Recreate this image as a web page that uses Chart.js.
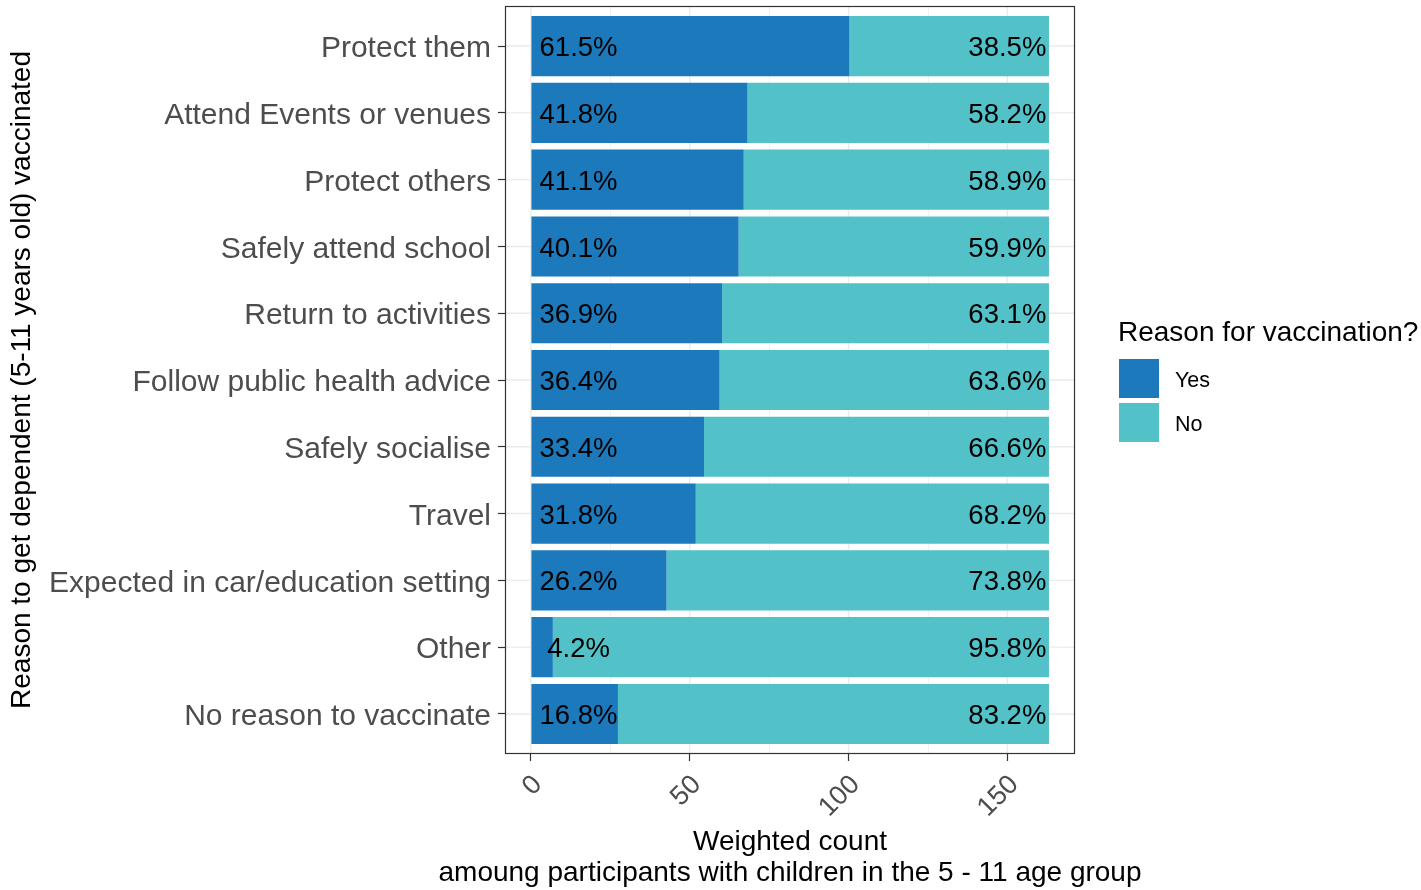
<!DOCTYPE html>
<html>
<head>
<meta charset="utf-8">
<script src="https://cdn.jsdelivr.net/npm/chart.js@4.4.1/dist/chart.umd.min.js"></script>
<style>
  html, body { margin: 0; padding: 0; background: #fff; }
  #wrap { position: relative; width: 1421px; height: 890px; font-family: "Liberation Sans", Arial, sans-serif; }
  #chart { position: absolute; left: 0; top: 0; }
  .lg { position: absolute; white-space: nowrap; }
  .lg-title { left: 1118px; top: 316px; font-size: 28px; line-height: 32px; color: #000; }
  .lg-key { left: 1119px; width: 40px; height: 39px; }
  .lg-lab { left: 1175px; font-size: 21.5px; line-height: 26px; color: #000; }
  .xt { position: absolute; left: 390px; width: 800px; text-align: center; font-size: 28px; line-height: 32px; color: #000; white-space: nowrap; }
</style>
</head>
<body>
<div id="wrap">
  <canvas id="chart" width="1421" height="890"></canvas>
  <div class="lg lg-title">Reason for vaccination?</div>
  <div class="lg lg-key" id="keyYes" style="top:359px"></div>
  <div class="lg lg-lab" style="top:367px">Yes</div>
  <div class="lg lg-key" id="keyNo" style="top:403px"></div>
  <div class="lg lg-lab" style="top:411px">No</div>
  <div class="xt" id="xTitle1" style="top:825px"></div>
  <div class="xt" id="xTitle2" style="top:856px"></div>
</div>
<script>
// categories top to bottom
const categories = [
  'Protect them', 'Attend Events or venues', 'Protect others', 'Safely attend school',
  'Return to activities', 'Follow public health advice', 'Safely socialise', 'Travel',
  'Expected in car/education setting', 'Other', 'No reason to vaccinate'
];
// weighted counts
const yesCounts = [100.3, 68.2, 67.0, 65.4, 60.2, 59.4, 54.5, 51.9, 42.7, 6.9, 27.4];
const noCounts  = [62.8, 94.9, 96.1, 97.7, 102.9, 103.7, 108.6, 111.2, 120.4, 156.2, 135.7];
const yesLabels = ['61.5%', '41.8%', '41.1%', '40.1%', '36.9%', '36.4%', '33.4%', '31.8%', '26.2%', '4.2%', '16.8%'];
const noLabels  = ['38.5%', '58.2%', '58.9%', '59.9%', '63.1%', '63.6%', '66.6%', '68.2%', '73.8%', '95.8%', '83.2%'];
const xTicks      = [0, 50, 100, 150];
const xMinorTicks = [25, 75, 125];
const yesLabelX = 15;   // where the percentage texts sit on the count axis
const noLabelX  = 150;
const xTitleLines = ['Weighted count', 'amoung participants with children in the 5 - 11 age group'];
const yTitle = 'Reason to get dependent (5-11 years old) vaccinated';

const YES_COL = '#1b79bc';
const NO_COL  = '#52c1c8';
const FAMILY  = '"Liberation Sans", Arial, sans-serif';

document.getElementById('keyYes').style.background = YES_COL;
document.getElementById('keyNo').style.background  = NO_COL;
document.getElementById('xTitle1').textContent = xTitleLines[0];
document.getElementById('xTitle2').textContent = xTitleLines[1];

const panelPlugin = {
  id: 'panel',
  beforeDatasetsDraw(chart) {
    const { ctx, chartArea: a, scales: { x, y } } = chart;
    ctx.save();
    ctx.strokeStyle = '#ebebeb';
    ctx.lineWidth = 0.7;
    xMinorTicks.forEach(v => {
      const px = Math.round(x.getPixelForValue(v)) + 0.5;
      ctx.beginPath(); ctx.moveTo(px, a.top); ctx.lineTo(px, a.bottom); ctx.stroke();
    });
    ctx.lineWidth = 1.4;
    xTicks.forEach(v => {
      const px = x.getPixelForValue(v);
      ctx.beginPath(); ctx.moveTo(px, a.top); ctx.lineTo(px, a.bottom); ctx.stroke();
    });
    categories.forEach((c, i) => {
      const py = y.getPixelForValue(i);
      ctx.beginPath(); ctx.moveTo(a.left, py); ctx.lineTo(a.right, py); ctx.stroke();
    });
    ctx.restore();
  },
  afterDatasetsDraw(chart) {
    const { ctx, chartArea: a, scales: { x, y } } = chart;
    ctx.save();
    ctx.font = '27.5px ' + FAMILY;
    ctx.fillStyle = '#000';
    ctx.textAlign = 'center';
    ctx.textBaseline = 'middle';
    categories.forEach((c, i) => {
      const py = y.getPixelForValue(i) + 2.5;
      ctx.fillText(yesLabels[i], x.getPixelForValue(yesLabelX), py);
      ctx.fillText(noLabels[i],  x.getPixelForValue(noLabelX),  py);
    });
    ctx.strokeStyle = '#333';
    ctx.lineWidth = 1.2;
    ctx.strokeRect(a.left + 0.5, a.top + 0.5, a.width - 1, a.height - 1);
    ctx.restore();
  }
};

new Chart(document.getElementById('chart'), {
  type: 'bar',
  data: {
    datasets: [
      { label: 'Yes', data: yesCounts.map((v, i) => ({ x: v, y: i })), backgroundColor: YES_COL,
        stack: 's', categoryPercentage: 0.9, barPercentage: 1, borderWidth: 0 },
      { label: 'No',  data: noCounts.map((v, i) => ({ x: v, y: i })),  backgroundColor: NO_COL,
        stack: 's', categoryPercentage: 0.9, barPercentage: 1, borderWidth: 0 }
    ]
  },
  options: {
    indexAxis: 'y',
    responsive: false,
    animation: false,
    layout: { padding: { top: 6, right: 346, left: 0, bottom: 0 } },
    plugins: { legend: { display: false }, tooltip: { enabled: false } },
    scales: {
      x: {
        type: 'linear', stacked: true, min: -8.16, max: 171.3, offset: false,
        afterBuildTicks: s => { s.ticks = xTicks.map(v => ({ value: v })); },
        afterFit: s => { s.height = 136; s.paddingLeft = 0; s.paddingRight = 0; },
        grid: { drawOnChartArea: false, tickLength: 7, tickColor: '#333', tickWidth: 1.2 },
        border: { display: false },
        ticks: { minRotation: 45, maxRotation: 45, autoSkip: false, padding: 8, labelOffset: 7,
                 color: '#4d4d4d', font: { size: 27, family: FAMILY } }
      },
      y: {
        type: 'linear', reverse: true, min: -0.6, max: 10.6, offset: false,
        afterBuildTicks: s => { s.ticks = categories.map((c, i) => ({ value: i })); },
        afterFit: s => { s.width = 505; s.paddingTop = 0; s.paddingBottom = 0; },
        grid: { drawOnChartArea: false, offset: false, tickLength: 7, tickColor: '#333', tickWidth: 1.2 },
        border: { display: false },
        ticks: { autoSkip: false, padding: 7, labelOffset: 3, color: '#4d4d4d', font: { size: 30, family: FAMILY },
                 callback: v => categories[v] },
        title: { display: true, color: '#000', padding: { top: 5, bottom: 0 }, text: yTitle,
                 font: { size: 28, family: FAMILY, lineHeight: 1.2 } }
      }
    }
  },
  plugins: [panelPlugin]
});
</script>
</body>
</html>
